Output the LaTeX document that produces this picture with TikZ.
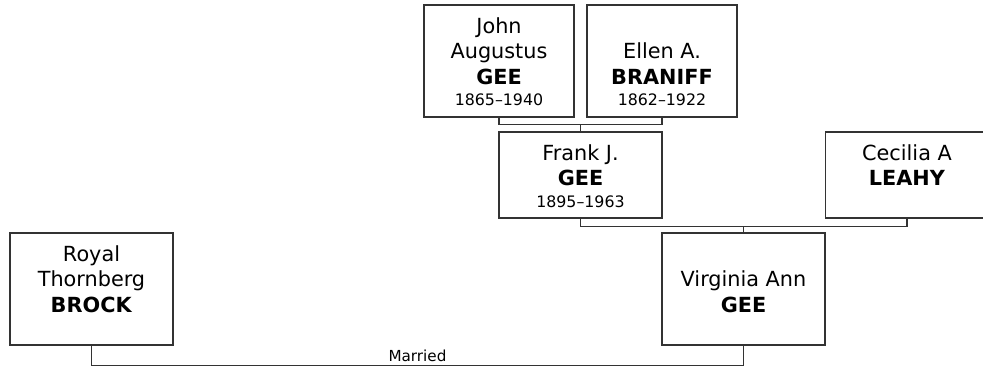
\documentclass[tikz,border=0pt]{standalone}
\usepackage{fontspec}
\setmainfont{DejaVu Sans}
\newcommand{\yrs}[1]{{\fontsize{15.8}{19}\selectfont #1}}
\begin{document}
\begin{tikzpicture}[x=1pt,y=-1pt,
    person/.style={draw=black!80,line width=1.3pt,inner sep=0pt,minimum width=163pt},
    tall/.style={person,minimum height=112pt},
    short/.style={person,minimum height=86pt},
    names/.style={anchor=base,align=center,inner sep=0pt,
        font=\fontsize{20.8}{25.5}\selectfont},
    link/.style={draw=black!80,line width=1.3pt}]
    \useasboundingbox (0,0) rectangle (983,368);

    % grandparents
    \node[tall,minimum width=150pt] (john) at (499,61) {};
    \node[tall,minimum width=150pt] (ellen) at (662,61) {};
    % parents
    \node[short] (frank) at (580.5,175) {};
    \node[short] (cecilia) at (907,175) {};
    % couple
    \node[tall] (royal) at (91.5,289) {};
    \node[tall] (virginia) at (743.5,289) {};

    % names, placed by the baseline of the last line
    \node[names] (johnT) at ([yshift=-101.5pt]john.north)
        {John\\Augustus\\\textbf{GEE}\\[-4pt]\yrs{1865–1940}};
    \node[names] (ellenT) at ([yshift=-101.5pt]ellen.north)
        {Ellen A.\\\textbf{BRANIFF}\\[-4pt]\yrs{1862–1922}};
    \node[names] (frankT) at ([yshift=-76pt]frank.north)
        {Frank J.\\\textbf{GEE}\\[-4pt]\yrs{1895–1963}};
    \node[names] (ceciliaT) at ([yshift=-54.5pt]cecilia.north)
        {Cecilia A\\\textbf{LEAHY}};
    \node[names] (royalT) at ([yshift=-80pt]royal.north)
        {Royal\\Thornberg\\\textbf{BROCK}};
    \node[names] (virginiaT) at ([yshift=-80pt]virginia.north)
        {Virginia Ann\\\textbf{GEE}};

    \draw[link] (john.south) -- ++(0,7) coordinate (jeL) -| (ellen.south);
    \draw[link] (frank.north) -- (frank.north |- jeL);
    \draw[link] (frank.south) -- ++(0,8) coordinate (fcL) -| (cecilia.south);
    \draw[link] (virginia.north) -- (virginia.north |- fcL);
    \draw[link] (royal.south) -- ++(0,20) coordinate (wedL)
        -| node[pos=0.25,above,inner sep=3pt,font=\fontsize{15.2}{18}\selectfont] (wed) {Married}
        (virginia.south);
\end{tikzpicture}
\end{document}
